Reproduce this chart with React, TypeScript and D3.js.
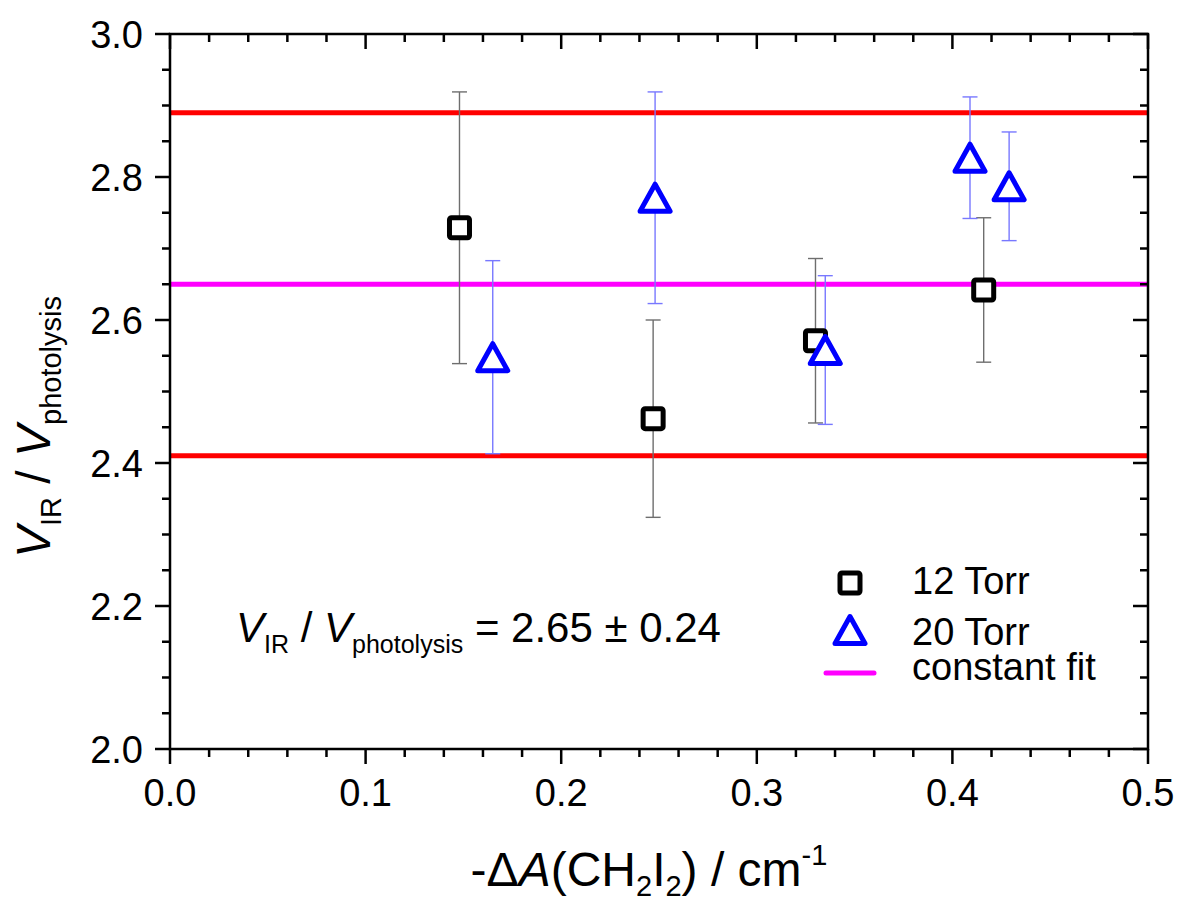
import * as d3 from "d3";

// 12 Torr series
const torr12X = [0.148, 0.247, 0.33, 0.416];
const torr12Y = [2.729, 2.462, 2.571, 2.642];
const torr12Err = [0.19, 0.138, 0.115, 0.101];

// 20 Torr series
const torr20X = [0.165, 0.248, 0.335, 0.409, 0.429];
const torr20Y = [2.548, 2.771, 2.558, 2.827, 2.787];
const torr20Err = [0.135, 0.148, 0.104, 0.085, 0.076];

// constant fit and its band
const fitValue = 2.65;
const fitError = 0.24;

const xTicks = [0, 0.1, 0.2, 0.3, 0.4, 0.5];
const yTicks = [2.0, 2.2, 2.4, 2.6, 2.8, 3.0];
const legendLabels = ["12 Torr", "20 Torr", "constant fit"];

const W = 1180;
const H = 906;
const FONT = "'Liberation Sans', Arial, sans-serif";

const x = d3.scaleLinear().domain([0, 0.5]).range([170, 1148]);
const y = d3.scaleLinear().domain([2.0, 3.0]).range([749, 34]);

const xMinor = d3.range(0, 0.5001, 0.02).filter((v) => Math.abs(v * 10 - Math.round(v * 10)) > 1e-6);
const yMinor = d3.range(2.0, 3.0001, 0.05).filter((v) => Math.abs(v * 5 - Math.round(v * 5)) > 1e-6);

// triangle path centred on its bounding box
const tri = (cx: number, cy: number) => {
  const hw = 15, hh = 13.5;
  return `M${cx},${cy - hh}L${cx + hw},${cy + hh}L${cx - hw},${cy + hh}Z`;
};

function ErrorBars({ xs, ys, es, color }: { xs: number[]; ys: number[]; es: number[]; color: string }) {
  return (
    <g stroke={color} strokeWidth={1.4} fill="none">
      {xs.map((xv, i) => {
        const px = x(xv);
        const top = y(ys[i] + es[i]);
        const bot = y(ys[i] - es[i]);
        return (
          <g key={i}>
            <line x1={px} x2={px} y1={top} y2={bot} />
            <line x1={px - 7.5} x2={px + 7.5} y1={top} y2={top} />
            <line x1={px - 7.5} x2={px + 7.5} y1={bot} y2={bot} />
          </g>
        );
      })}
    </g>
  );
}

export default function App() {
  const [x0, x1] = x.range();
  const [y0, y1] = y.range();
  return (
    <svg width={W} height={H} style={{ position: "absolute", left: 0, top: 0, background: "#fff" }} fontFamily={FONT}>
      {/* fit lines */}
      <g strokeWidth={5}>
        <line x1={x0} x2={x1} y1={y(fitValue + fitError)} y2={y(fitValue + fitError)} stroke="#ff0000" />
        <line x1={x0} x2={x1} y1={y(fitValue - fitError)} y2={y(fitValue - fitError)} stroke="#ff0000" />
        <line x1={x0} x2={x1} y1={y(fitValue)} y2={y(fitValue)} stroke="#ff00ff" />
      </g>

      <ErrorBars xs={torr12X} ys={torr12Y} es={torr12Err} color="#6e6e6e" />
      <ErrorBars xs={torr20X} ys={torr20Y} es={torr20Err} color="#7878ff" />

      {/* markers */}
      <g fill="#fff" stroke="#000" strokeWidth={5}>
        {torr12X.map((xv, i) => (
          <rect key={i} x={x(xv) - 10} y={y(torr12Y[i]) - 10} width={20} height={20} rx={2} />
        ))}
      </g>
      <g fill="#fff" stroke="#0000ff" strokeWidth={5} strokeLinejoin="round">
        {torr20X.map((xv, i) => (
          <path key={i} d={tri(x(xv), y(torr20Y[i]))} />
        ))}
      </g>

      {/* frame */}
      <rect x={x0} y={y1} width={x1 - x0} height={y0 - y1} fill="none" stroke="#000" strokeWidth={2.5} />

      {/* x ticks: outward at bottom, inward at top */}
      <g stroke="#000" strokeWidth={2.5}>
        {xTicks.map((t) => (
          <g key={t}>
            <line x1={x(t)} x2={x(t)} y1={y0} y2={y0 + 15} />
            <line x1={x(t)} x2={x(t)} y1={y1} y2={y1 + 15} />
          </g>
        ))}
        {xMinor.map((t) => (
          <g key={t}>
            <line x1={x(t)} x2={x(t)} y1={y0} y2={y0 + 8} />
            <line x1={x(t)} x2={x(t)} y1={y1} y2={y1 + 8} />
          </g>
        ))}
        {yTicks.map((t) => (
          <g key={t}>
            <line x1={x0 - 15} x2={x0} y1={y(t)} y2={y(t)} />
            <line x1={x1 - 15} x2={x1} y1={y(t)} y2={y(t)} />
          </g>
        ))}
        {yMinor.map((t) => (
          <g key={t}>
            <line x1={x0 - 8} x2={x0} y1={y(t)} y2={y(t)} />
            <line x1={x1 - 8} x2={x1} y1={y(t)} y2={y(t)} />
          </g>
        ))}
      </g>

      {/* tick labels */}
      <g fontSize={38} fill="#000">
        {xTicks.map((t) => (
          <text key={t} x={x(t)} y={806} textAnchor="middle">
            {d3.format(".1f")(t)}
          </text>
        ))}
        {yTicks.map((t) => (
          <text key={t} x={143} y={y(t)} dy="0.36em" textAnchor="end">
            {d3.format(".1f")(t)}
          </text>
        ))}
      </g>

      {/* x axis title */}
      <text x={649} y={886} fontSize={48} textAnchor="middle">
        <tspan>-Δ</tspan>
        <tspan fontStyle="italic">A</tspan>
        <tspan>(CH</tspan>
        <tspan fontSize={29} dy={10}>2</tspan>
        <tspan dy={-10}>I</tspan>
        <tspan fontSize={29} dy={10}>2</tspan>
        <tspan dy={-10}>) / cm</tspan>
        <tspan fontSize={29} dy={-21}>-1</tspan>
      </text>

      {/* y axis title */}
      <text transform="translate(50,427) rotate(-90)" fontSize={48} textAnchor="middle">
        <tspan fontStyle="italic">V</tspan>
        <tspan fontSize={29} dy={11}>IR</tspan>
        <tspan dy={-11}> / </tspan>
        <tspan fontStyle="italic">V</tspan>
        <tspan fontSize={29} dy={11}>photolysis</tspan>
      </text>

      {/* annotation */}
      <text x={236} y={642} fontSize={42}>
        <tspan fontStyle="italic">V</tspan>
        <tspan fontSize={25} dy={11}>IR</tspan>
        <tspan dy={-11}> / </tspan>
        <tspan fontStyle="italic">V</tspan>
        <tspan fontSize={25} dy={11}>photolysis</tspan>
        <tspan dy={-11}>{` = ${fitValue.toFixed(2)} ± ${fitError.toFixed(2)}`}</tspan>
      </text>

      {/* legend */}
      <g>
        <rect x={840} y={573} width={20} height={20} rx={2} fill="#fff" stroke="#000" strokeWidth={5} />
        <path d={tri(850, 630)} fill="#fff" stroke="#0000ff" strokeWidth={5} strokeLinejoin="round" />
        <line x1={826} x2={874} y1={673} y2={673} stroke="#ff00ff" strokeWidth={5} strokeLinecap="round" />
        {legendLabels.map((l, i) => (
          <text key={l} x={912} y={[594, 645, 680][i]} fontSize={38}>
            {l}
          </text>
        ))}
      </g>
    </svg>
  );
}
